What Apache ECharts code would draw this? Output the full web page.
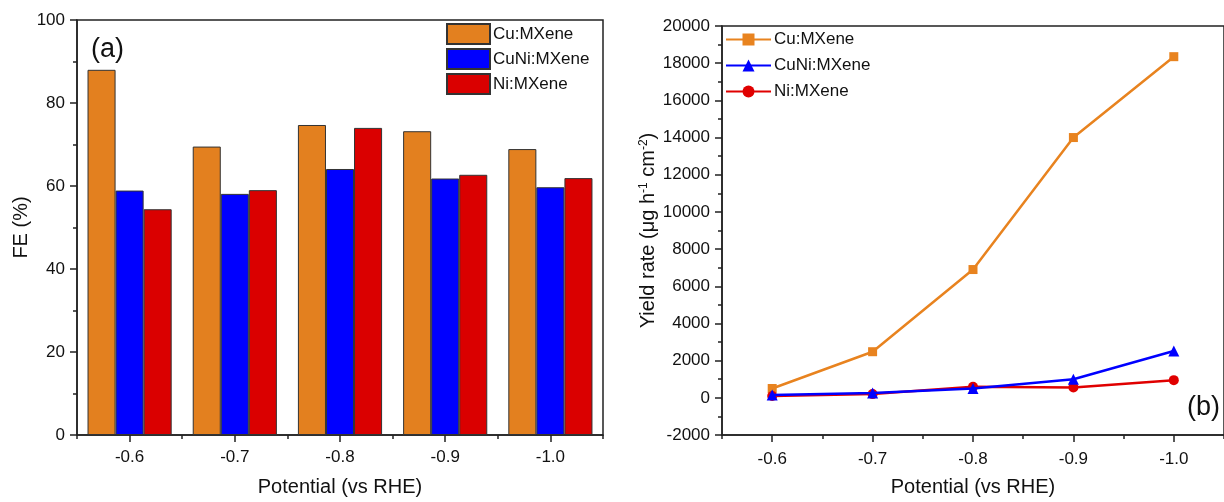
<!DOCTYPE html>
<html>
<head>
<meta charset="utf-8">
<script src="https://cdn.jsdelivr.net/npm/echarts@6/dist/echarts.min.js"></script>
<style>
  html, body { margin: 0; padding: 0; background: #fff; }
  #chart { width: 1224px; height: 502px; }
</style>
</head>
<body>
<div id="chart"></div>
<script>
// potentials (vs RHE)
const potentials = ['-0.6', '-0.7', '-0.8', '-0.9', '-1.0']
// FE (%) - panel (a)
const feCu = [88.0, 69.5, 74.7, 73.2, 68.9]
const feCuNi = [58.9, 58.1, 64.1, 61.8, 59.7]
const feNi = [54.4, 59.0, 74.0, 62.7, 61.9]
// yield rate (ug h-1 cm-2) - panel (b)
const yieldCu = [500, 2480, 6900, 14000, 18350]
const yieldCuNi = [150, 260, 500, 1000, 2520]
const yieldNi = [100, 200, 590, 560, 950]
const seriesNames = ['Cu:MXene', 'CuNi:MXene', 'Ni:MXene']
// line series need their own names so the two legends stay separate
const lineNames = seriesNames.map(n => n + ' ')

const font = 'Liberation Sans, Arial, sans-serif'
const orange = '#E3801F'
const lineOrange = '#E8831F'
const blue = '#0000FF'
const red = '#DA0000'
const lineRed = '#E00000'
const axisColor = '#222'

const chart = echarts.init(document.getElementById('chart'))

function catAxis(gridIndex, minor, labelMargin) {
    return {
        type: 'category',
        gridIndex: gridIndex,
        data: potentials,
        position: 'bottom',
        boundaryGap: true,
        axisLine: { show: !minor, onZero: false, lineStyle: { color: axisColor, width: 1.5 } },
        axisTick: {
            show: true,
            alignWithLabel: !minor,
            length: minor ? 4 : 7,
            lineStyle: { color: axisColor, width: 1.5 }
        },
        axisLabel: {
            show: !minor,
            color: '#111',
            fontFamily: font,
            fontSize: 17,
            margin: labelMargin
        },
        name: minor ? '' : 'Potential (vs RHE)',
        nameLocation: 'middle',
        nameGap: 42,
        nameTextStyle: { color: '#111', fontFamily: font, fontSize: 20 },
        splitLine: { show: false }
    }
}

function valAxis(gridIndex, min, max, interval, name, gap) {
    return {
        type: 'value',
        gridIndex: gridIndex,
        min: min,
        max: max,
        interval: interval,
        axisLine: { show: true, lineStyle: { color: axisColor, width: 1.5 } },
        axisTick: { show: true, length: 7, lineStyle: { color: axisColor, width: 1.5 } },
        minorTick: { show: true, splitNumber: 2, length: 4, lineStyle: { color: axisColor, width: 1.5 } },
        axisLabel: {
            color: '#111', fontFamily: font, fontSize: 17, margin: 12,
            formatter: v => String(v)
        },
        splitLine: { show: false },
        name: name,
        nameLocation: 'middle',
        nameGap: gap,
        nameTextStyle: {
            color: '#111',
            fontFamily: font,
            fontSize: 20,
            rich: {
                sup: { fontSize: 12, verticalAlign: 'top', fontFamily: font, color: '#111' }
            }
        }
    }
}

const barBorder = { borderColor: '#333', borderWidth: 1 }
const legendText = { fontFamily: font, fontSize: 17, color: '#111', padding: [0, 0, 0, -2] }

const option = {
    animation: false,
    backgroundColor: '#fff',
    textStyle: { fontFamily: font },
    title: [
        { text: '(a)', left: 86, top: 31, textStyle: { fontSize: 27, fontWeight: 'normal', fontFamily: font, color: '#111' } },
        { text: '(b)', left: 1182, top: 389, textStyle: { fontSize: 27, fontWeight: 'normal', fontFamily: font, color: '#111' } }
    ],
    grid: [
        { left: 77, top: 20, width: 526, height: 415, show: true, borderColor: axisColor, borderWidth: 1.5 },
        { left: 722, top: 26, width: 510, height: 413, show: true, borderColor: axisColor, borderWidth: 1.5 }
    ],
    legend: [
        {
            data: seriesNames.map(n => ({ name: n, icon: 'rect' })),
            orient: 'vertical',
            left: 446,
            top: 23,
            padding: 0,
            itemGap: 3,
            itemWidth: 43,
            itemHeight: 20,
            textStyle: legendText
        },
        {
            data: lineNames,
            orient: 'vertical',
            left: 725,
            top: 31,
            padding: 0,
            itemGap: 9,
            itemWidth: 45,
            itemHeight: 15,
            textStyle: legendText
        }
    ],
    xAxis: [catAxis(0, false, 14), catAxis(0, true, 14), catAxis(1, false, 16), catAxis(1, true, 16)],
    yAxis: [
        valAxis(0, 0, 100, 20, 'FE (%)', 46),
        valAxis(1, -2000, 20000, 2000, 'Yield rate (μg h{sup|-1} cm{sup|-2})', 64)
    ],
    series: [
        { name: seriesNames[0], type: 'bar', xAxisIndex: 0, yAxisIndex: 0, data: feCu, barGap: '0%', barCategoryGap: '20%', itemStyle: Object.assign({ color: orange }, barBorder) },
        { name: seriesNames[1], type: 'bar', xAxisIndex: 0, yAxisIndex: 0, data: feCuNi, barGap: '0%', barCategoryGap: '20%', itemStyle: Object.assign({ color: blue }, barBorder) },
        { name: seriesNames[2], type: 'bar', xAxisIndex: 0, yAxisIndex: 0, data: feNi, barGap: '0%', barCategoryGap: '20%', itemStyle: Object.assign({ color: red }, barBorder) },
        {
            name: lineNames[0], type: 'line', xAxisIndex: 2, yAxisIndex: 1, data: yieldCu,
            symbol: 'rect', symbolSize: 9, lineStyle: { color: lineOrange, width: 2.5 }, itemStyle: { color: lineOrange }
        },
        {
            name: lineNames[1], type: 'line', xAxisIndex: 2, yAxisIndex: 1, data: yieldCuNi,
            symbol: 'triangle', symbolSize: 11, lineStyle: { color: blue, width: 2.5 }, itemStyle: { color: blue }, z: 4
        },
        {
            name: lineNames[2], type: 'line', xAxisIndex: 2, yAxisIndex: 1, data: yieldNi,
            symbol: 'circle', symbolSize: 10, lineStyle: { color: lineRed, width: 2.5 }, itemStyle: { color: lineRed }, z: 3
        }
    ]
}

chart.setOption(option)
</script>
</body>
</html>
